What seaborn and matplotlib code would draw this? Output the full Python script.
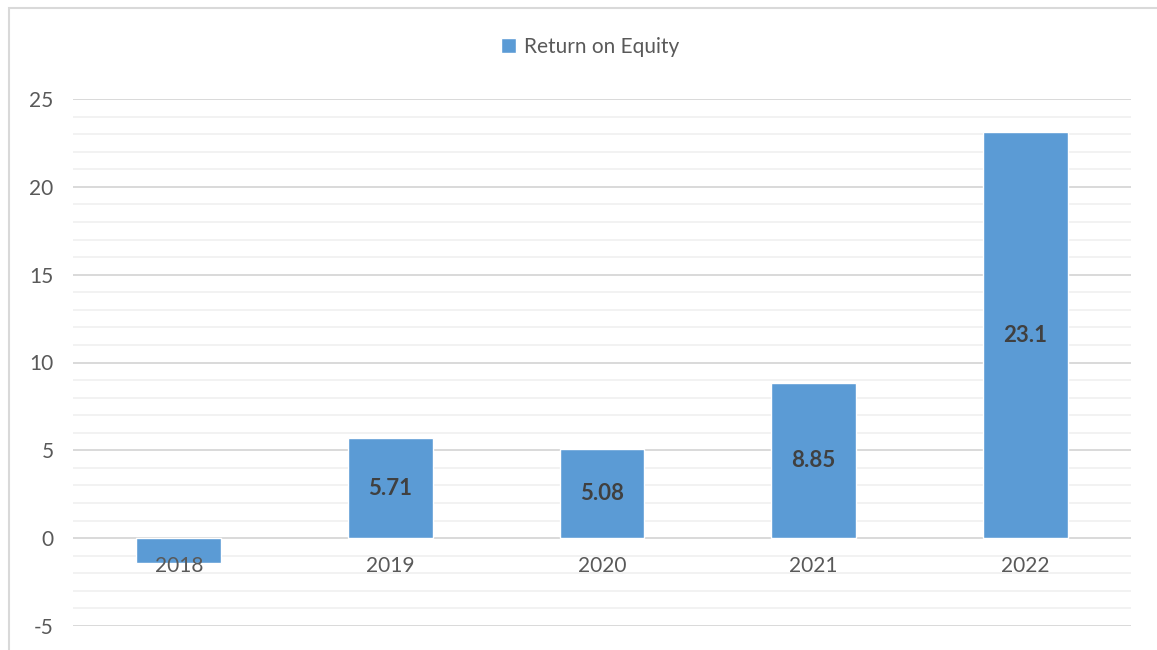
import matplotlib.pyplot as plt
import seaborn as sns
import pandas as pd
from matplotlib.patches import Rectangle
from matplotlib.ticker import MultipleLocator

years = ['2018', '2019', '2020', '2021', '2022']
roe = [-1.4, 5.71, 5.08, 8.85, 23.1]
bar_text = ['', '5.71', '5.08', '8.85', '23.1']
yticks = [-5, 0, 5, 10, 15, 20, 25]

sns.set_style('white')
plt.rcParams['font.family'] = ['Lato', 'DejaVu Sans']
plt.rcParams['axes.unicode_minus'] = False

df = pd.DataFrame({'year': years, 'roe': roe})

fig = plt.figure(figsize=(11.57, 6.5), dpi=100)
ax = fig.add_axes([73/1157, 24/650, (1131-73)/1157, (626-99)/650])

sns.barplot(data=df, x='year', y='roe', color='#5B9BD5', saturation=1,
            width=0.4, ax=ax, label='Return on Equity')

ax.set_ylim(-5, 25)
ax.set_xlim(-0.5, 4.5)
ax.set_yticks(yticks)
ax.yaxis.set_minor_locator(MultipleLocator(1))
ax.grid(axis='y', which='major', color='#D9D9D9', linewidth=1.4)
ax.grid(axis='y', which='minor', color='#F2F2F2', linewidth=1.4)
ax.grid(axis='x', visible=False)
ax.set_axisbelow(True)
# category labels sit on top of the negative bar, like in excel
ax.xaxis.set_zorder(3)
for s in ax.spines.values():
    s.set_visible(False)
ax.spines['bottom'].set_position(('data', 0))
ax.tick_params(axis='both', which='both', length=0)
ax.tick_params(axis='y', pad=14, labelsize=15, labelcolor='#595959')
ax.tick_params(axis='x', pad=13, labelsize=15, labelcolor='#595959')
ax.set_xlabel('')
ax.set_ylabel('')

ax.bar_label(ax.containers[0], labels=bar_text, label_type='center',
             fontweight='bold', color='#404040', fontsize=16)

leg = ax.legend(loc='center', bbox_to_anchor=(590/1157, 1 - 47/650),
                bbox_transform=fig.transFigure, frameon=False, fontsize=15,
                handlelength=0.7, handleheight=0.7, handletextpad=0.4)
for t in leg.get_texts():
    t.set_color('#595959')

fig.patches.append(Rectangle((9/1157, -0.1), 1.2, 1.1 - 8/650, transform=fig.transFigure,
                             fill=False, edgecolor='#D9D9D9', linewidth=1.5))

plt.savefig('out.png', dpi=100)
